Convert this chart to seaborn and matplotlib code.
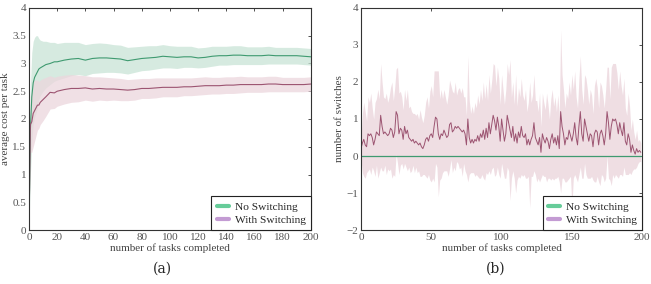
import matplotlib
matplotlib.use('Agg')
import matplotlib.pyplot as plt
from matplotlib.lines import Line2D
import numpy as np
import pandas as pd
import seaborn as sns

# panel (a): average cost per task
tasks_a = [0, 1, 2, 3, 4, 5, 6, 7, 8, 10, 12, 15, 18, 20, 25, 30, 35, 40, 45, 50,
           55, 60, 65, 70, 75, 80, 85, 90, 95, 100, 105, 110, 115, 120, 125, 130,
           135, 140, 145, 150, 155, 160, 165, 170, 175, 180, 185, 190, 195, 200]
cost_no_switch = [0.0, 1.8, 2.4, 2.65, 2.75, 2.8, 2.85, 2.9, 2.92, 2.95, 2.98, 3.0,
                  3.03, 3.03, 3.06, 3.08, 3.09, 3.06, 3.09, 3.1, 3.1, 3.09, 3.08,
                  3.05, 3.07, 3.09, 3.1, 3.11, 3.13, 3.12, 3.11, 3.12, 3.12, 3.1,
                  3.11, 3.13, 3.14, 3.14, 3.15, 3.15, 3.14, 3.14, 3.14, 3.15, 3.14,
                  3.14, 3.14, 3.14, 3.13, 3.12]
std_no_switch = [0.0, 0.8, 0.8, 0.75, 0.72, 0.7, 0.65, 0.55, 0.5, 0.45, 0.42, 0.38,
                 0.35, 0.33, 0.32, 0.3, 0.29, 0.28, 0.27, 0.27, 0.26, 0.25, 0.25,
                 0.24, 0.23, 0.22, 0.22, 0.21, 0.21, 0.2, 0.2, 0.19, 0.19, 0.18,
                 0.18, 0.18, 0.17, 0.17, 0.17, 0.17, 0.16, 0.16, 0.16, 0.16, 0.15,
                 0.15, 0.15, 0.15, 0.15, 0.15]
cost_switch = [0.0, 1.9, 1.95, 2.1, 2.15, 2.2, 2.25, 2.25, 2.3, 2.35, 2.4, 2.48,
               2.47, 2.5, 2.53, 2.55, 2.55, 2.56, 2.54, 2.55, 2.54, 2.54, 2.53,
               2.52, 2.53, 2.55, 2.55, 2.56, 2.57, 2.57, 2.57, 2.58, 2.58, 2.59,
               2.6, 2.6, 2.6, 2.61, 2.61, 2.62, 2.62, 2.62, 2.62, 2.63, 2.63, 2.62,
               2.62, 2.62, 2.62, 2.63]
std_switch = [0.0, 0.5, 0.55, 0.6, 0.55, 0.5, 0.45, 0.42, 0.4, 0.38, 0.35, 0.3,
              0.28, 0.27, 0.26, 0.25, 0.24, 0.22, 0.22, 0.21, 0.21, 0.2, 0.2, 0.19,
              0.19, 0.18, 0.18, 0.18, 0.17, 0.17, 0.17, 0.16, 0.16, 0.16, 0.16,
              0.15, 0.15, 0.15, 0.15, 0.15, 0.14, 0.14, 0.14, 0.14, 0.14, 0.13,
              0.13, 0.13, 0.13, 0.13]

# panel (b): number of switches per task
tasks_b = list(range(200))
switches = [
    0.2, 0.35, 0.45, 0.3, 0.25, 0.6, 0.55, 0.6, 0.5, 0.3,
    0.45, 0.65, 0.6, 0.55, 1.1, 0.8, 0.6, 0.65, 0.6, 0.55,
    0.6, 0.75, 0.7, 0.5, 0.65, 1.2, 1.1, 0.6, 0.75, 0.7,
    0.45, 0.8, 0.6, 0.7, 0.5, 0.45, 0.4, 0.45, 0.35, 0.4,
    0.35, 0.3, 0.35, 0.25, 0.2, 0.3, 0.45, 0.5, 0.4, 0.55,
    0.6, 0.5, 0.8, 1.05, 1.0, 0.6, 0.45, 0.6, 0.55, 0.7,
    0.6, 0.5, 0.55, 0.85, 0.9, 0.65, 0.7, 0.8, 0.75, 0.8,
    0.75, 0.7, 0.65, 0.7, 0.6, 0.3, 1.0, 0.5, 0.35, 0.45,
    0.35, 0.45, 0.4, 0.55, 0.4, 0.6, 0.5, 0.7, 0.45, 0.75,
    0.5, 0.9, 0.6, 0.85, 1.1, 0.95, 0.7, 1.05, 0.8, 0.4,
    1.0, 0.7, 0.4, 0.6, 1.1, 0.9, 0.7, 0.5, 0.8, 0.4,
    0.6, 0.35, 0.65, 0.5, 0.8, 0.55, 0.5, 0.6, 0.3, 0.45,
    0.3, 0.45, 0.55, 0.9, 0.5, 0.4, 0.3, 0.5, 0.1, 0.6,
    0.45, 0.35, 0.5, 0.4, 0.2, 0.45, 0.6, 0.35, 0.5, 0.3,
    0.55, 0.2, 1.2, 0.8, 0.6, 0.3, 0.5, 0.45, 0.7, 0.55,
    0.4, 0.6, 0.9, 0.5, 0.3, 0.8, 1.2, 0.6, 0.4, 1.0,
    0.8, 0.6, 0.4, 0.6, 0.55, 0.25, 0.6, 0.7, 0.65, 0.3,
    0.6, 0.7, 0.55, 0.3, 0.6, 1.2, 0.9, 0.45, 0.8, 1.0,
    0.95, 1.0, 0.85, 0.6, 0.9, 0.7, 0.55, 0.9, 0.4, 0.3,
    0.6, 0.45, 0.1, 0.3, 0.15, 0.05, 0.2, 0.1, 0.15, 0.1]
std_switches = [
    0.3, 0.8, 1.0, 0.9, 0.7, 1.0, 0.9, 1.1, 0.8, 0.7,
    1.0, 0.9, 1.2, 1.0, 1.4, 1.2, 1.0, 0.9, 1.1, 0.9,
    1.0, 1.1, 1.3, 1.0, 1.2, 1.15, 1.3, 1.1, 1.0, 0.9,
    0.8, 1.0, 0.9, 1.1, 0.8, 0.9, 0.8, 0.7, 0.8, 0.7,
    0.8, 0.7, 0.9, 0.8, 0.7, 0.8, 1.0, 1.1, 0.9, 1.2,
    1.3, 1.1, 1.5, 1.25, 1.3, 1.7, 1.1, 1.2, 1.0, 1.1,
    1.0, 0.9, 1.1, 1.2, 1.0, 1.1, 1.0, 1.2, 0.9, 1.0,
    1.1, 1.0, 1.2, 0.9, 1.0, 0.8, 1.7, 1.0, 0.8, 0.9,
    0.8, 1.0, 0.9, 1.1, 1.0, 1.2, 1.0, 1.3, 1.1, 1.2,
    1.0, 1.3, 1.1, 1.2, 1.4, 1.5, 1.2, 1.35, 1.3, 1.0,
    1.2, 1.1, 1.0, 1.2, 1.4, 1.3, 1.9, 1.1, 1.2, 1.0,
    1.6, 1.0, 1.2, 1.1, 1.3, 1.1, 1.0, 1.2, 0.9, 1.0,
    1.7, 1.0, 1.1, 1.3, 1.0, 1.1, 0.9, 1.2, 0.7, 1.1,
    1.0, 0.9, 1.2, 1.0, 0.8, 1.1, 1.2, 1.0, 1.1, 0.9,
    1.1, 0.9, 2.2, 1.4, 1.2, 1.0, 1.2, 1.1, 1.3, 1.1,
    1.8, 1.2, 1.4, 1.1, 1.0, 1.3, 1.5, 1.2, 1.0, 1.2,
    1.3, 1.2, 1.0, 1.2, 1.1, 0.9, 1.3, 1.4, 1.2, 1.0,
    1.4, 1.2, 1.1, 1.0, 1.2, 1.2, 1.5, 1.1, 1.6, 1.5,
    1.55, 1.5, 1.4, 1.2, 1.4, 1.2, 1.1, 1.2, 0.9, 0.8,
    1.1, 0.9, 0.6, 0.7, 0.5, 0.4, 0.5, 0.3, 0.3, 0.25]
no_switches = [0.0] * len(tasks_b)

GREEN = '#3f9a70'
GREEN_FILL = '#c9e4d6'
PINK = '#9c5471'
PINK_FILL = '#ecd6dd'
LEG_GREEN = '#66cc99'
LEG_PINK = '#c39bd3'

sns.set_style('white')
plt.rcParams['font.family'] = ['Liberation Serif', 'DejaVu Serif']
plt.rcParams['font.size'] = 8

fig = plt.figure(figsize=(6.51, 2.84), dpi=100)
ax_a = fig.add_axes([0.0445, 0.19, 0.433, 0.782])
ax_b = fig.add_axes([0.5545, 0.19, 0.432, 0.782])

df_a = pd.DataFrame({'task': tasks_a, 'no': cost_no_switch, 'sw': cost_switch,
                     'no_std': std_no_switch, 'sw_std': std_switch})
ax_a.fill_between(df_a['task'], df_a['no'] - df_a['no_std'], df_a['no'] + df_a['no_std'],
                  color=GREEN_FILL, alpha=0.75, lw=0)
ax_a.fill_between(df_a['task'], df_a['sw'] - df_a['sw_std'], df_a['sw'] + df_a['sw_std'],
                  color=PINK_FILL, alpha=0.75, lw=0)
sns.lineplot(data=df_a, x='task', y='no', ax=ax_a, color=GREEN, lw=0.8)
sns.lineplot(data=df_a, x='task', y='sw', ax=ax_a, color=PINK, lw=0.8)
ax_a.set_xlim(0, 200)
ax_a.set_ylim(0, 4)
ax_a.set_xticks(range(0, 201, 20))
ax_a.set_yticks(np.arange(0, 4.01, 0.5))
ax_a.set_yticklabels(['0', '0.5', '1', '1.5', '2', '2.5', '3', '3.5', '4'])
ax_a.set_ylabel('average cost per task', labelpad=2)

df_b = pd.DataFrame({'task': tasks_b, 'sw': switches, 'std': std_switches,
                     'no': no_switches})
ax_b.fill_between(df_b['task'], df_b['sw'] - df_b['std'], df_b['sw'] + df_b['std'],
                  color=PINK_FILL, alpha=0.8, lw=0)
sns.lineplot(data=df_b, x='task', y='no', ax=ax_b, color=GREEN, lw=0.9)
sns.lineplot(data=df_b, x='task', y='sw', ax=ax_b, color=PINK, lw=0.7)
ax_b.set_xlim(0, 200)
ax_b.set_ylim(-2, 4)
ax_b.set_xticks(range(0, 201, 50))
ax_b.set_yticks(range(-2, 5))
ax_b.set_ylabel('number of switches', labelpad=2)

handles = [Line2D([], [], color=LEG_GREEN, lw=3), Line2D([], [], color=LEG_PINK, lw=3)]
for ax in (ax_a, ax_b):
    ax.set_xlabel('number of tasks completed', labelpad=1)
    for s in ax.spines.values():
        s.set_color('#333333')
        s.set_linewidth(0.8)
    ax.tick_params(direction='in', length=2.5, width=0.6, pad=2, top=True, right=True,
                   colors='#333333', labelcolor='#555555')
    leg = ax.legend(handles, ['No Switching', 'With Switching'], loc='lower right',
                    borderaxespad=0, fancybox=False, handlelength=1.1,
                    handletextpad=0.5, edgecolor='#222222', framealpha=1,
                    borderpad=0.45, labelspacing=0.3, fontsize=8.2)
    leg.get_frame().set_linewidth(0.8)
    ax.yaxis.label.set_color('#444444')
    ax.xaxis.label.set_color('#444444')

fig.text(0.25, 0.055, '(a)', ha='center', va='center', fontsize=10,
         family=['DejaVu Serif'])
fig.text(0.762, 0.055, '(b)', ha='center', va='center', fontsize=10,
         family=['DejaVu Serif'])

fig.savefig('out.png', dpi=100)
